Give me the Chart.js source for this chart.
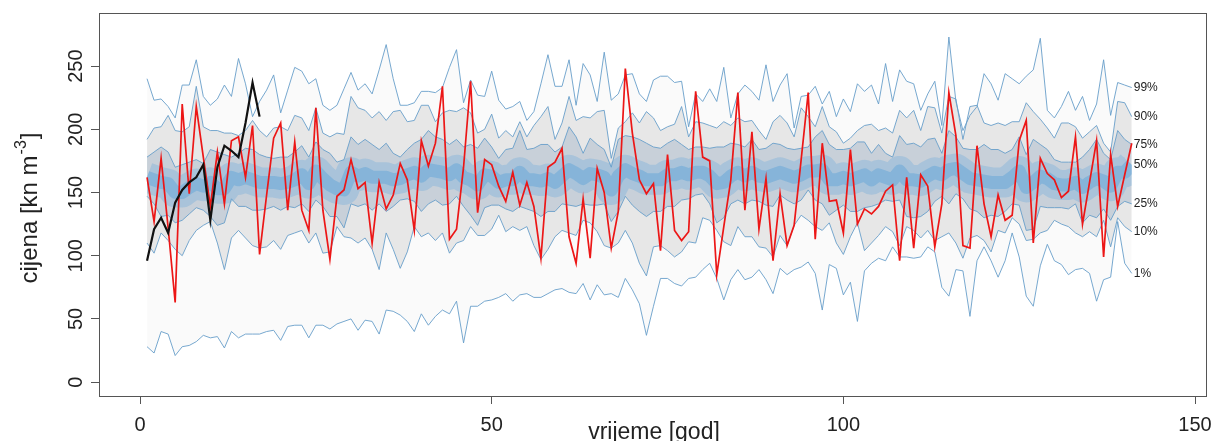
<!DOCTYPE html>
<html>
<head>
<meta charset="utf-8">
<script src="https://cdn.jsdelivr.net/npm/chart.js@4.4.1/dist/chart.umd.min.js"></script>
<style>
  html, body { margin: 0; padding: 0; background: #fff; }
</style>
</head>
<body>
<canvas id="fan" width="1215" height="441"></canvas>
<script>
const years = Array.from({ length: 141 }, (_, i) => i + 1);
const xTicks = [0, 50, 100, 150];
const yTicks = [0, 50, 100, 150, 200, 250];
const quantileNames = ["99%", "90%", "75%", "50%", "25%", "10%", "1%"];

const observed = [96, 121, 130, 118, 142, 152, 158, 162, 172, 128, 170, 187, 183, 178, 205, 237, 210];

const simulated = [
  162, 127, 177, 122, 63, 220, 149, 218, 178, 139, 182, 141, 191, 194, 162, 203, 101, 148, 193, 205,
  136, 190, 136, 120, 217, 136, 97, 147, 152, 176, 153, 158, 110, 158, 137, 148, 173, 160, 120, 191,
  171, 189, 234, 113, 121, 170, 238, 134, 176, 172, 155, 143, 166, 140, 158, 139, 98, 170, 174, 185,
  115, 94, 145, 98, 169, 150, 106, 135, 248, 197, 160, 149, 157, 104, 180, 120, 112, 119, 230, 178,
  175, 85, 123, 160, 229, 136, 198, 121, 161, 96, 149, 108, 124, 176, 229, 113, 189, 143, 144, 118,
  184, 125, 137, 133, 139, 151, 156, 96, 162, 106, 164, 155, 107, 141, 229, 195, 108, 106, 187, 141,
  115, 148, 128, 132, 191, 207, 110, 177, 165, 160, 146, 151, 194, 125, 158, 191, 99, 180, 139, 164,
  189
];

const q99 = [
  240, 223, 224, 218, 209, 235, 235, 255, 226, 219, 224, 235, 226, 256, 236, 210, 222, 231, 243, 213,
  231, 249, 246, 236, 240, 219, 215, 219, 232, 245, 231, 236, 228, 247, 267, 240, 219, 219, 221, 230,
  230, 229, 233, 249, 263, 221, 239, 227, 226, 246, 223, 216, 218, 222, 207, 214, 236, 259, 234, 234,
  255, 219, 252, 243, 222, 261, 223, 228, 243, 244, 228, 222, 239, 242, 242, 237, 238, 202, 228, 222,
  232, 222, 249, 209, 228, 235, 230, 223, 251, 222, 235, 244, 201, 226, 227, 234, 220, 230, 210, 224,
  214, 236, 230, 235, 220, 252, 222, 247, 238, 236, 215, 228, 238, 203, 273, 222, 199, 211, 218, 244,
  236, 223, 244, 240, 236, 242, 247, 272, 215, 209, 218, 230, 215, 226, 207, 220, 255, 211, 237, 235,
  233
];

const q90 = [
  192, 201, 202, 211, 199, 198, 202, 234, 202, 199, 199, 197, 197, 195, 199, 207, 199, 194, 201, 202,
  199, 211, 209, 199, 217, 197, 194, 197, 196, 226, 217, 215, 209, 214, 207, 214, 215, 206, 207, 219,
  219, 206, 213, 215, 214, 217, 213, 197, 200, 212, 193, 199, 194, 206, 194, 203, 210, 218, 192, 205,
  226, 207, 210, 209, 214, 215, 177, 201, 206, 213, 205, 214, 209, 199, 202, 204, 218, 194, 206, 205,
  203, 201, 206, 203, 209, 206, 207, 199, 192, 206, 211, 205, 194, 217, 210, 202, 218, 202, 198, 189,
  193, 199, 203, 204, 199, 201, 197, 215, 209, 215, 199, 218, 217, 197, 226, 224, 192, 218, 219, 205,
  203, 205, 203, 206, 206, 221, 214, 208, 201, 193, 205, 205, 202, 193, 198, 203, 189, 182, 222, 221,
  210
];

const q75 = [
  178, 182, 186, 182, 170, 172, 174, 176, 173, 184, 182, 180, 178, 181, 185, 184, 180, 178, 177, 178,
  178, 182, 187, 178, 190, 184, 181, 174, 176, 194, 188, 192, 188, 184, 189, 181, 178, 184, 189, 192,
  199, 194, 192, 188, 192, 186, 188, 185, 193, 186, 177, 184, 185, 199, 184, 185, 188, 188, 182, 186,
  202, 194, 181, 193, 188, 184, 170, 192, 195, 194, 192, 189, 186, 185, 189, 192, 188, 184, 186, 186,
  185, 186, 186, 189, 188, 186, 192, 184, 185, 189, 188, 185, 184, 185, 186, 194, 199, 188, 184, 184,
  185, 190, 190, 181, 188, 181, 178, 195, 188, 189, 186, 192, 193, 181, 199, 194, 185, 184, 184, 188,
  184, 184, 181, 184, 194, 180, 192, 188, 184, 176, 174, 174, 174, 178, 184, 192, 181, 176, 199, 192,
  188
];

const q50 = [
  162, 160, 158, 157, 150, 150, 154, 157, 155, 158, 153, 153, 162, 160, 162, 160, 158, 158, 158, 157,
  158, 160, 164, 157, 167, 161, 156, 153, 152, 166, 163, 165, 162, 162, 162, 160, 161, 164, 166, 163,
  168, 167, 166, 164, 168, 162, 160, 156, 164, 163, 158, 160, 160, 166, 160, 160, 159, 161, 158, 163,
  168, 165, 161, 165, 164, 162, 152, 163, 168, 165, 163, 160, 160, 160, 164, 164, 166, 164, 166, 166,
  163, 157, 158, 163, 166, 163, 166, 163, 162, 164, 166, 164, 162, 164, 167, 167, 168, 160, 160, 162,
  160, 162, 164, 160, 164, 162, 160, 167, 160, 160, 159, 163, 166, 164, 168, 169, 165, 161, 160, 159,
  158, 158, 158, 162, 167, 154, 158, 163, 161, 157, 156, 156, 158, 154, 158, 161, 159, 155, 166, 166,
  172
];

const q25 = [
  147, 141, 131, 132, 126, 128, 133, 138, 136, 131, 124, 126, 145, 139, 139, 136, 136, 137, 139, 136,
  139, 138, 141, 135, 144, 139, 131, 131, 122, 141, 139, 141, 136, 141, 135, 139, 144, 145, 143, 135,
  141, 144, 140, 141, 147, 139, 132, 124, 138, 140, 140, 137, 135, 139, 137, 135, 131, 135, 135, 141,
  140, 139, 141, 140, 140, 141, 127, 135, 147, 140, 135, 131, 135, 135, 139, 139, 144, 145, 148, 149,
  141, 126, 130, 141, 144, 141, 144, 143, 140, 139, 148, 144, 141, 144, 152, 144, 141, 132, 136, 140,
  135, 135, 138, 139, 141, 144, 143, 144, 131, 130, 131, 135, 143, 147, 141, 149, 145, 137, 135, 130,
  132, 131, 135, 141, 140, 120, 121, 139, 138, 138, 138, 137, 141, 126, 132, 130, 137, 128, 139, 143,
  141
];

const q10 = [
  110, 102, 118, 112, 105, 100, 112, 120, 124, 127, 110, 89, 114, 120, 114, 108, 106, 107, 112, 105,
  116, 118, 120, 110, 118, 102, 103, 123, 115, 114, 110, 114, 105, 89, 118, 105, 90, 103, 123, 115,
  118, 112, 118, 102, 110, 112, 123, 116, 116, 121, 132, 119, 123, 120, 123, 108, 97, 105, 115, 120,
  118, 116, 128, 126, 119, 108, 106, 110, 120, 110, 94, 84, 107, 108, 104, 99, 103, 111, 110, 130,
  128, 120, 111, 108, 123, 115, 115, 107, 106, 99, 116, 108, 124, 132, 128, 123, 120, 126, 110, 101,
  115, 126, 104, 110, 116, 123, 119, 108, 123, 120, 114, 120, 112, 115, 118, 110, 98, 114, 116, 112,
  103, 120, 118, 130, 125, 112, 113, 118, 120, 128, 125, 123, 118, 115, 119, 115, 128, 107, 130, 123,
  119
];

const q1 = [
  28, 23, 40, 38, 21, 28, 29, 32, 37, 35, 36, 27, 40, 35, 38, 38, 38, 40, 41, 33,
  44, 45, 45, 35, 45, 45, 42, 46, 48, 50, 41, 49, 48, 38, 57, 56, 53, 48, 40, 54,
  45, 52, 57, 54, 64, 31, 60, 60, 64, 65, 67, 70, 64, 69, 70, 67, 67, 70, 73, 74,
  71, 70, 78, 65, 77, 69, 70, 67, 82, 73, 62, 37, 60, 82, 82, 78, 76, 82, 83, 89,
  94, 82, 65, 81, 89, 81, 83, 89, 81, 70, 90, 85, 89, 91, 95, 86, 57, 93, 90, 69,
  79, 48, 88, 94, 98, 96, 107, 99, 99, 98, 99, 107, 103, 75, 68, 89, 88, 52, 96, 107,
  96, 83, 96, 118, 99, 68, 60, 92, 109, 96, 93, 85, 89, 90, 86, 64, 81, 83, 127, 94,
  86
];

const pts = (arr) => arr.map((v, i) => ({ x: years[i], y: v }));

const qLine = "rgba(104,158,202,0.9)";
const fontFam = "'Liberation Sans', Arial, Helvetica, sans-serif";

// keep the wide median band inside the simulated years
const bandClip = {
  id: "bandClip",
  beforeDatasetDraw(chart, args) {
    if (args.index < 8) return;
    const xs = chart.scales.x;
    const a = chart.chartArea;
    const l = xs.getPixelForValue(years[0]);
    const r = xs.getPixelForValue(years[years.length - 1]);
    chart.ctx.save();
    chart.ctx.beginPath();
    chart.ctx.rect(l, a.top, r - l, a.bottom - a.top);
    chart.ctx.clip();
  },
  afterDatasetDraw(chart, args) {
    if (args.index < 8) return;
    chart.ctx.restore();
  }
};

const textPlugin = {
  id: "rtext",
  afterDraw(chart) {
    const ctx = chart.ctx;
    const a = chart.chartArea;
    const xs = chart.scales.x;
    const ys = chart.scales.y;
    ctx.save();
    // frame
    ctx.strokeStyle = "#555";
    ctx.lineWidth = 1;
    ctx.strokeRect(a.left + 0.5, a.top + 0.5, a.right - a.left - 1, a.bottom - a.top);

    ctx.fillStyle = "#222";
    // x tick labels
    ctx.font = "20px " + fontFam;
    ctx.textAlign = "center";
    ctx.textBaseline = "alphabetic";
    xTicks.forEach((v) => ctx.fillText(String(v), xs.getPixelForValue(v), 431));

    // y tick labels, rotated
    yTicks.forEach((v) => {
      ctx.save();
      ctx.translate(82, ys.getPixelForValue(v));
      ctx.rotate(-Math.PI / 2);
      ctx.textAlign = "center";
      ctx.fillText(String(v), 0, 0);
      ctx.restore();
    });

    // x title
    ctx.font = "23px " + fontFam;
    ctx.textAlign = "center";
    ctx.fillText("vrijeme [god]", 654, 439);

    // y title with superscript
    ctx.save();
    ctx.translate(37, 208);
    ctx.rotate(-Math.PI / 2);
    ctx.textAlign = "left";
    const mainFont = "24px " + fontFam;
    const supFont = "16px " + fontFam;
    ctx.font = mainFont;
    const p1 = "cijena [kn m";
    const w1 = ctx.measureText(p1).width;
    ctx.font = supFont;
    const w2 = ctx.measureText("-3").width;
    ctx.font = mainFont;
    const w3 = ctx.measureText("]").width;
    let x0 = -(w1 + w2 + w3 + 2) / 2;
    ctx.fillText(p1, x0, 0);
    ctx.font = supFont;
    ctx.fillText("-3", x0 + w1 + 1, -11);
    ctx.font = mainFont;
    ctx.fillText("]", x0 + w1 + w2 + 2, 0);
    ctx.restore();

    // quantile labels at the end of each band line
    const ends = [q99, q90, q75, q50, q25, q10, q1];
    ctx.font = "12px " + fontFam;
    ctx.textAlign = "left";
    ctx.textBaseline = "middle";
    ends.forEach((arr, k) => {
      const last = arr.length - 1;
      const px = xs.getPixelForValue(years[last]);
      const py = ys.getPixelForValue(arr[last]);
      ctx.fillText(quantileNames[k], px + 2, py);
    });
    ctx.restore();
  }
};

new Chart(document.getElementById("fan"), {
  type: "line",
  data: {
    datasets: [
      {
        data: observed.map((v, i) => ({ x: years[i], y: v })),
        borderColor: "#111111",
        borderWidth: 2.2,
        pointRadius: 0,
        fill: false,
      },
      {
        data: pts(simulated),
        borderColor: "rgb(236,22,22)",
        borderWidth: 1.7,
        pointRadius: 0,
        fill: false,
      },
      {
        data: pts(q99),
        borderColor: qLine,
        borderWidth: 1,
        pointRadius: 0,
        fill: { target: 7 },
        backgroundColor: "rgba(0,0,0,0.018)",
      },
      {
        data: pts(q90),
        borderColor: qLine,
        borderWidth: 1,
        pointRadius: 0,
        fill: { target: 6 },
        backgroundColor: "rgba(30,30,30,0.085)",
      },
      {
        data: pts(q75),
        borderColor: qLine,
        borderWidth: 1,
        pointRadius: 0,
        fill: { target: 5 },
        backgroundColor: "rgba(80,125,170,0.2)",
      },
      {
        data: pts(q25),
        borderColor: qLine,
        borderWidth: 1,
        pointRadius: 0,
        fill: false,
      },
      {
        data: pts(q10),
        borderColor: qLine,
        borderWidth: 1,
        pointRadius: 0,
        fill: false,
      },
      {
        data: pts(q1),
        borderColor: qLine,
        borderWidth: 1,
        pointRadius: 0,
        fill: false,
      },
      {
        data: pts(q50),
        borderColor: "rgba(95,165,220,0.3)",
        borderWidth: 30,
        borderJoinStyle: "round",
        pointRadius: 0,
        fill: false,
      },
      {
        data: pts(q50),
        borderColor: "rgba(90,160,215,0.45)",
        borderWidth: 13,
        borderJoinStyle: "round",
        pointRadius: 0,
        fill: false,
      },
    ],
  },
  options: {
    responsive: false,
    animation: false,
    layout: { padding: { left: 0, top: 13, right: 8, bottom: 0 } },
    elements: { line: { tension: 0 } },
    plugins: {
      legend: { display: false },
      tooltip: { enabled: false },
      filler: { drawTime: "beforeDatasetsDraw", propagate: false },
    },
    scales: {
      x: {
        type: "linear",
        min: -5.83,
        max: 151.7,
        afterBuildTicks: (s) => { s.ticks = xTicks.map((v) => ({ value: v })); },
        afterFit: (s) => { s.height = 45; },
        ticks: { display: false },
        grid: { drawOnChartArea: false, drawTicks: true, tickLength: 8, color: "#555" },
        border: { display: false },
      },
      y: {
        type: "linear",
        min: -11,
        max: 292,
        afterBuildTicks: (s) => { s.ticks = yTicks.map((v) => ({ value: v })); },
        afterFit: (s) => { s.width = 99; },
        ticks: { display: false },
        grid: { drawOnChartArea: false, drawTicks: true, tickLength: 8, color: "#555" },
        border: { display: false },
      },
    },
  },
  plugins: [bandClip, textPlugin],
});
</script>
</body>
</html>
